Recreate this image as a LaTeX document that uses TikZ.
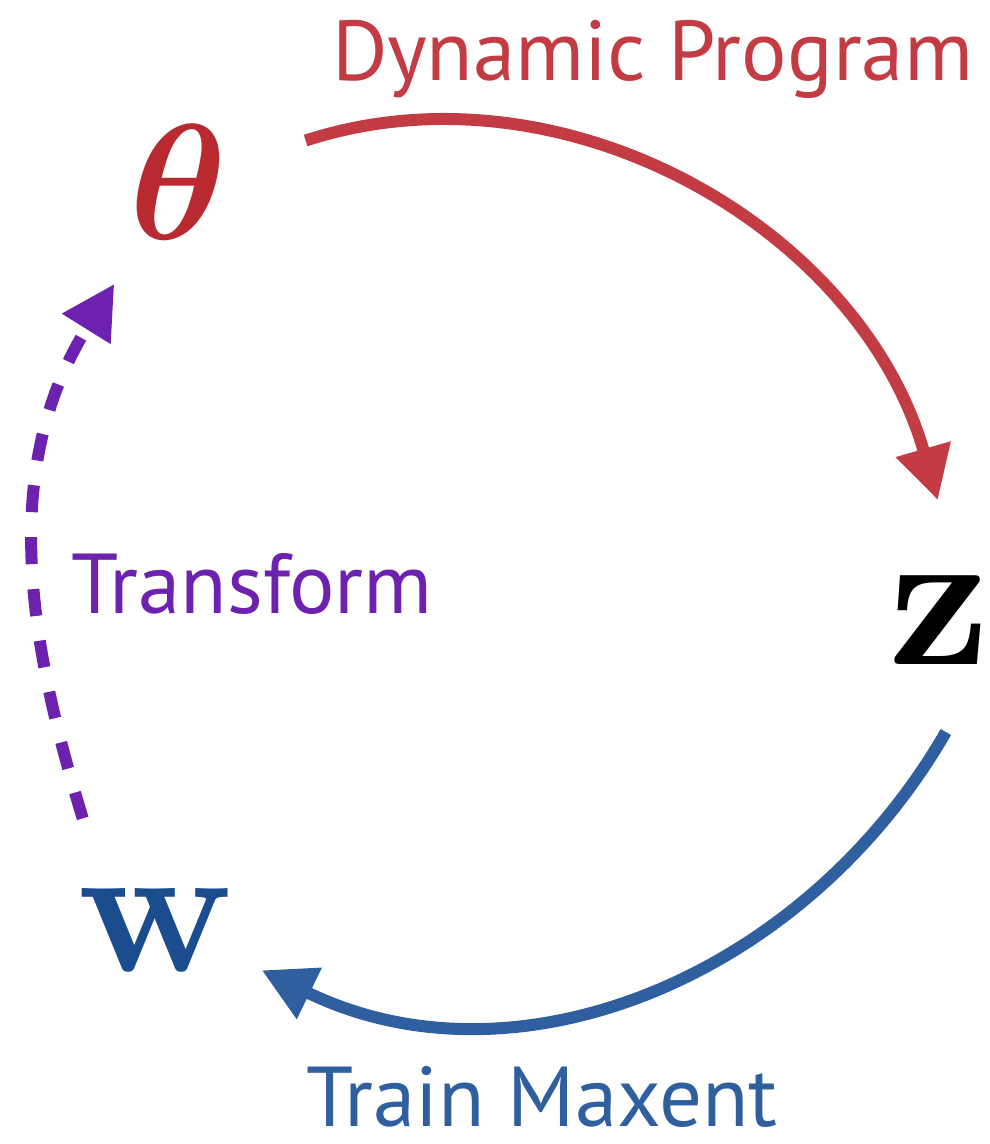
\documentclass[tikz,border=0pt]{standalone}
\usepackage{amsmath}
\usepackage{graphicx}
\usepackage[no-math]{fontspec}
\setmainfont{PT Sans}
\usepackage{tikz}
\usetikzlibrary{arrows.meta}
\definecolor{cyred}{HTML}{C33C44}
\definecolor{cyreddark}{HTML}{B82A30}
\definecolor{cyblue}{HTML}{2F5F9F}
\definecolor{cybluedark}{HTML}{1B4C8E}
\definecolor{cypurple}{HTML}{6C22AE}
\tikzset{
  mvar/.style={circle,inner sep=0pt,minimum size=224pt},
  clabel/.style={font=\fontsize{85}{85}\selectfont,inner sep=0pt,anchor=base},
  cyc/.style={line width=12pt,-{Triangle[length=53pt,width=54pt]}}
}
\begin{document}
\begin{tikzpicture}[x=1pt,y=1pt]
  \useasboundingbox (0,0) rectangle (990,-1144);
  \node[mvar,text=cyreddark] (theta) at (178,-182) {\scalebox{16.5}{$\boldsymbol{\theta}$}};
  \node[mvar] (z) at (940,-620) {\scalebox{20}{$\mathbf{z}$}};
  \node[mvar,text=cybluedark] (w) at (157,-930) {\scalebox{18.7}{$\mathbf{w}$}};
  \node[clabel,text=cyred] (dp) at (653,-80) {Dynamic Program};
  \node[clabel,text=cypurple] (tf) at (252,-613) {Transform};
  \node[clabel,text=cyblue] (tm) at (542,-1126) {Train Maxent};
  \draw[cyc,cyred,shorten <=22pt,shorten >=8pt] (theta.18) to[out=18,in=106] (z.90);
  \draw[cyc,cyblue] (z.273) to[out=240,in=334] (w.339);
  \draw[cyc,cypurple,dash pattern=on 27pt off 25pt,shorten <=23pt,shorten >=8pt] (w.127) to[out=107,in=238] (theta.238);
\end{tikzpicture}
\end{document}
